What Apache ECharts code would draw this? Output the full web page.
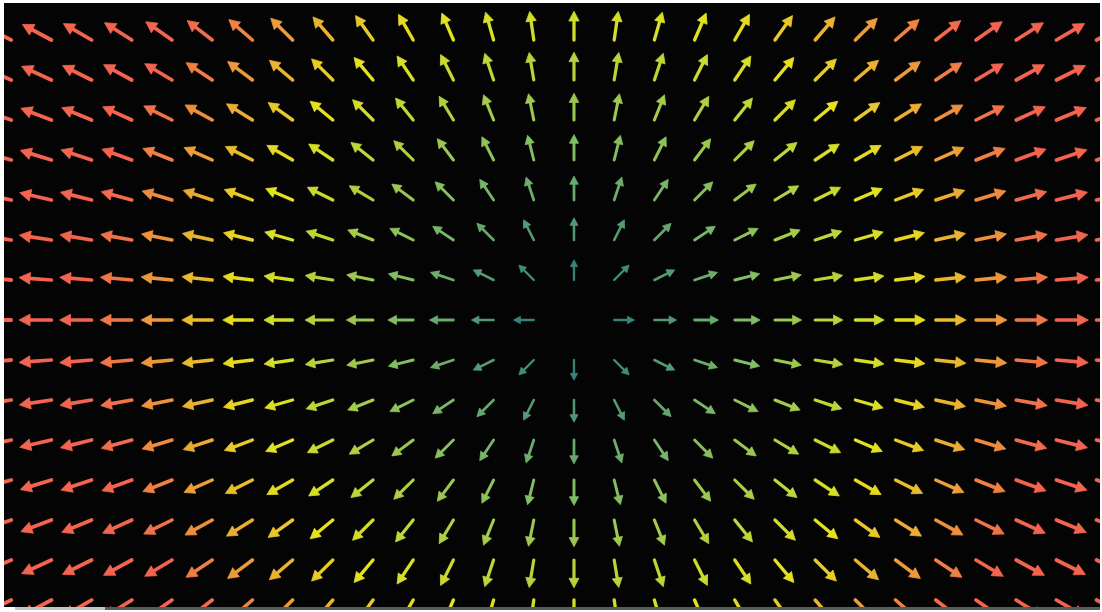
<!DOCTYPE html>
<html>
<head>
<meta charset="utf-8">
<script src="https://cdn.jsdelivr.net/npm/echarts@6/dist/echarts.min.js"></script>
<style>
  html, body { margin: 0; padding: 0; background: #ffffff; }
  #chart { width: 1102px; height: 612px; }
</style>
</head>
<body>
<div id="chart"></div>
<script>
// Grid positions of the arrow tails (columns left->right, rows top->bottom)
const colX = [-14, -13, -12, -11, -10, -9, -8, -7, -6, -5, -4, -3, -2, -1, 0, 1, 2, 3, 4, 5, 6, 7, 8, 9, 10, 11, 12, 13];
const rowY = [7, 6, 5, 4, 3, 2, 1, 0, -1, -2, -3, -4, -5, -6, -7];
// Field components: every arrow points straight away from the centre,
// x-component constant down a column, y-component constant along a row
const vecU = [-14, -13, -12, -11, -10, -9, -8, -7, -6, -5, -4, -3, -2, -1, 0, 1, 2, 3, 4, 5, 6, 7, 8, 9, 10, 11, 12, 13];
const vecV = [7, 6, 5, 4, 3, 2, 1, 0, -1, -2, -3, -4, -5, -6, -7];
// Colour scale by magnitude (teal -> green -> yellow -> red)
const magColors = ['#1f7083', '#7dbb66', '#e4e41e', '#f2644f'];
const magMax = 11.6;

const data = [];
rowY.forEach((y, i) => {
  colX.forEach((x, j) => {
    const u = vecU[j], v = vecV[i];
    data.push([x, y, u, v, Math.sqrt(u * u + v * v)]);
  });
});

const chart = echarts.init(document.getElementById('chart'), null, { renderer: 'canvas' });

function renderArrow(params, api) {
  const x = api.value(0), y = api.value(1), u = api.value(2), v = api.value(3), m = api.value(4);
  if (!m) return null;
  const p0 = api.coord([x, y]);
  const p1 = api.coord([x + u / m, y + v / m]);
  let dx = p1[0] - p0[0], dy = p1[1] - p0[1];
  const d = Math.sqrt(dx * dx + dy * dy);
  dx /= d; dy /= d;
  const L = 18 + 17 * (1 - Math.exp(-m / 7));
  const headL = 0.34 * L;
  const headW = 0.36 * L;
  const shaftW = 0.115 * L;
  const tip = [p0[0] + dx * L, p0[1] + dy * L];
  const base = [tip[0] - dx * headL, tip[1] - dy * headL];
  const px = -dy, py = dx;
  const color = api.visual('color');
  return {
    type: 'group',
    children: [
      {
        type: 'line',
        shape: { x1: p0[0], y1: p0[1], x2: base[0] + dx * 1, y2: base[1] + dy * 1 },
        style: { stroke: color, lineWidth: shaftW, lineCap: 'round' }
      },
      {
        type: 'polygon',
        shape: {
          points: [
            tip,
            [base[0] + px * headW / 2, base[1] + py * headW / 2],
            [base[0] - px * headW / 2, base[1] - py * headW / 2]
          ]
        },
        style: { fill: color, stroke: color, lineWidth: 0.8, lineJoin: 'round' }
      }
    ]
  };
}

const option = {
  backgroundColor: '#ffffff',
  animation: false,
  grid: {
    left: 4, right: 2, top: 3, bottom: 5,
    show: true, backgroundColor: '#040404', borderWidth: 0
  },
  xAxis: { type: 'value', min: -14.179, max: 13.085, show: false },
  yAxis: { type: 'value', min: -7.175, max: 7.925, show: false },
  visualMap: {
    type: 'continuous', show: false, seriesIndex: 0, dimension: 4,
    min: 0, max: magMax, inRange: { color: magColors }
  },
  series: [{
    type: 'custom',
    clip: true,
    renderItem: renderArrow,
    encode: { x: 0, y: 1 },
    data: data
  }],
  graphic: [
    { type: 'rect', shape: { x: 15, y: 607, width: 90, height: 3 }, style: { fill: '#c4c4c4' }, z: 100 },
    { type: 'rect', shape: { x: 105, y: 607, width: 995, height: 3 }, style: { fill: '#5a5a5a' }, z: 100 }
  ]
};
chart.setOption(option);
</script>
</body>
</html>
